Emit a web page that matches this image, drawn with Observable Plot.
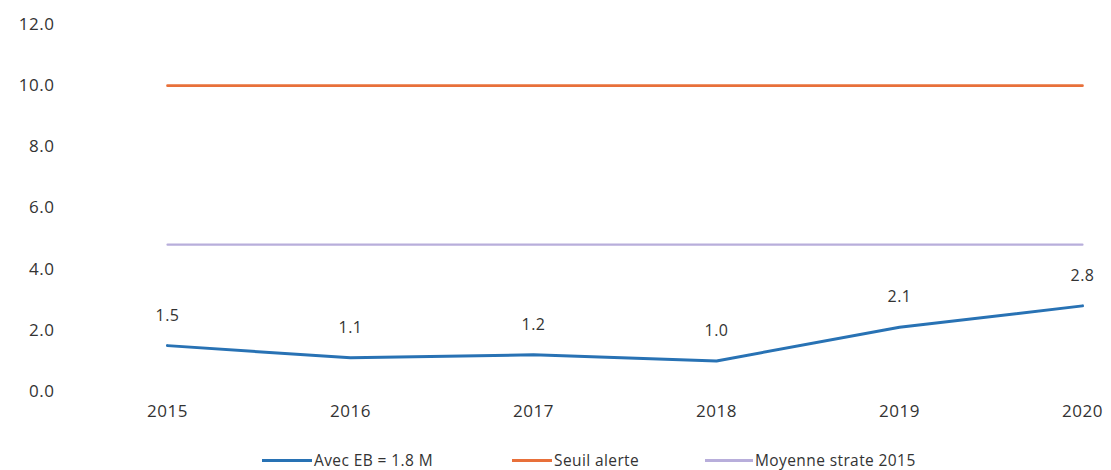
<!DOCTYPE html>
<html>
<head>
<meta charset="utf-8">
<script src="https://cdn.jsdelivr.net/npm/d3@7"></script>
<script src="https://cdn.jsdelivr.net/npm/@observablehq/plot@0.6"></script>
<style>
  body { margin: 0; background: #fff; font-family: "Open Sans", Lato, sans-serif; }
  #chart svg { display: block; }
  .legend { position: relative; height: 28px; font-size: 15.5px; line-height: 18px; color: #333; }
  .item { position: absolute; top: 9px; display: flex; align-items: center; white-space: nowrap; letter-spacing: 0.4px; }
  .sw { display: inline-block; height: 3px; margin-right: 2px; }
</style>
</head>
<body>
<div id="chart"></div>
<div class="legend" id="legend"></div>
<script>
const years = ["2015", "2016", "2017", "2018", "2019", "2020"];
const avecEB = [1.5, 1.1, 1.2, 1.0, 2.1, 2.8];
const seuilAlerte = [10.0, 10.0, 10.0, 10.0, 10.0, 10.0];
const moyenneStrate = [4.8, 4.8, 4.8, 4.8, 4.8, 4.8];
const seriesNames = ["Avec EB = 1.8 M", "Seuil alerte", "Moyenne strate 2015"];
const colors = ["#2872B4", "#E8703A", "#B8AEDB"];
const yTicks = [0, 2, 4, 6, 8, 10, 12];

const rows = [];
[avecEB, seuilAlerte, moyenneStrate].forEach((vals, s) => {
  vals.forEach((v, i) => rows.push({year: years[i], value: v, series: seriesNames[s]}));
});
const blue = rows.filter(d => d.series === seriesNames[0]);

const chart = Plot.plot({
  width: 1111,
  height: 442,
  marginLeft: 165,
  marginRight: 28,
  marginTop: 24,
  marginBottom: 51,
  style: { fontFamily: "'Open Sans', Lato, sans-serif", fontSize: "17px", color: "#333", background: "#fff", letterSpacing: "0.5px" },
  x: { type: "point", domain: years, padding: 0 },
  y: { domain: [0, 12] },
  marks: [
    Plot.axisY({ ticks: yTicks, tickFormat: d3.format(".1f"), tickSize: 0, tickPadding: 111, label: null, fontSize: 17 }),
    Plot.axisX({ tickSize: 0, tickPadding: 13, label: null, fontSize: 17 }),
    Plot.line(rows.filter(d => d.series === seriesNames[2]), { x: "year", y: "value", stroke: colors[2], strokeWidth: 2.2 }),
    Plot.line(rows.filter(d => d.series === seriesNames[1]), { x: "year", y: "value", stroke: colors[1], strokeWidth: 2.6 }),
    Plot.line(blue, { x: "year", y: "value", stroke: colors[0], strokeWidth: 3 }),
    Plot.text(blue, { x: "year", y: "value", text: d => d3.format(".1f")(d.value), dy: -30, fontSize: 16, fill: "#333" })
  ]
});
document.getElementById("chart").appendChild(chart);

const legend = document.getElementById("legend");
const lefts = [262, 512, 705];
const swW = [50, 40, 48];
seriesNames.forEach((n, i) => {
  const it = document.createElement("div");
  it.className = "item";
  it.style.left = lefts[i] + "px";
  it.innerHTML = `<span class="sw" style="width:${swW[i]}px;background:${colors[i]}"></span><span>${n}</span>`;
  legend.appendChild(it);
});
</script>
</body>
</html>
